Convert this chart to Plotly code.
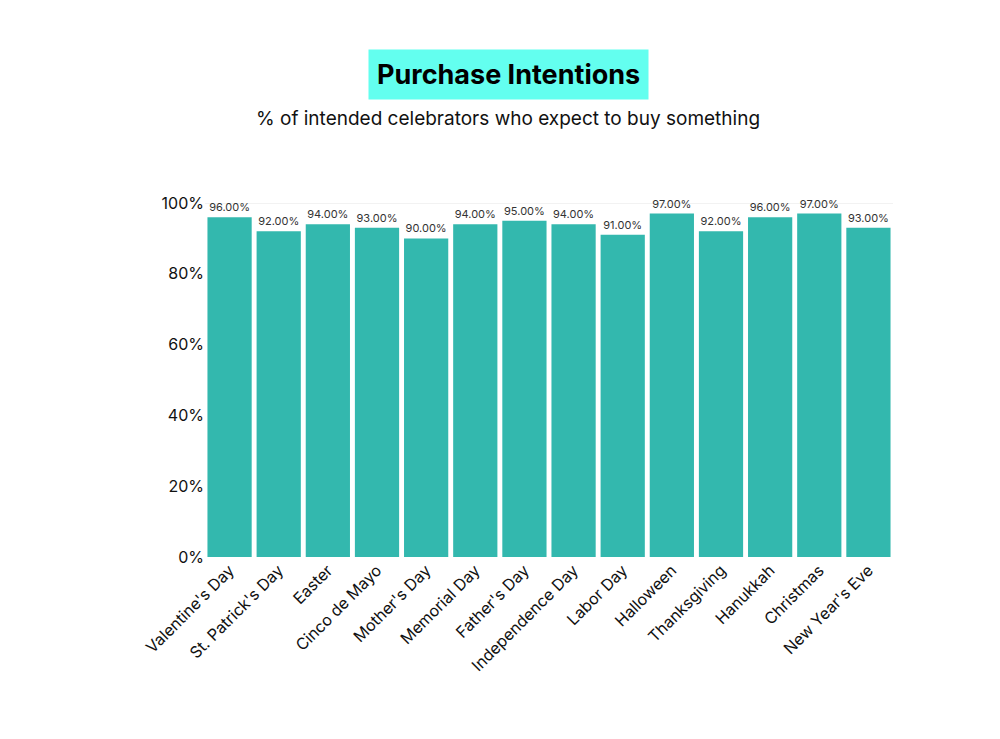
import plotly.graph_objects as go

holidays = ["Valentine's Day", "St. Patrick's Day", "Easter", "Cinco de Mayo", "Mother's Day",
            "Memorial Day", "Father's Day", "Independence Day", "Labor Day", "Halloween",
            "Thanksgiving", "Hanukkah", "Christmas", "New Year's Eve"]
values = [96, 92, 94, 93, 90, 94, 95, 94, 91, 97, 92, 96, 97, 93]
y_ticks = [0, 20, 40, 60, 80, 100]
y_tick_labels = ["0%", "20%", "40%", "60%", "80%", "100%"]

FONT = "Inter"
fig = go.Figure(go.Bar(
    x=holidays, y=values, marker=dict(color="#33B8AE", line=dict(width=0)),
    text=[f"{v:.2f}%" for v in values], textposition="outside",
    textfont=dict(size=11, color="#333333", family=FONT), cliponaxis=False,
))
fig.update_layout(
    width=1000, height=739, paper_bgcolor="white", plot_bgcolor="white",
    margin=dict(l=197, r=115, t=195, b=190), bargap=0.1, showlegend=False,
    font=dict(family=FONT, color="#111111"),
    xaxis=dict(tickangle=-45, tickfont=dict(size=16, color="#111111"), showgrid=False,
               showline=False, ticks=""),
    yaxis=dict(range=[0, 100], tickvals=y_ticks, ticktext=y_tick_labels,
               tickfont=dict(size=16, color="#111111"), showgrid=False, zeroline=False,
               ticks="", ticklen=8, tickcolor="white"),
    shapes=[dict(type="line", xref="paper", yref="y", x0=0, x1=1, y0=100, y1=100,
                 line=dict(color="#e6e6e6", width=1), layer="below")],
    annotations=[
        dict(text="<b>Purchase Intentions</b>", xref="paper", yref="paper", x=0.5, y=1,
             xanchor="center", yanchor="middle", showarrow=False,
             font=dict(size=27, color="black", family=FONT), bgcolor="#63FFEF",
             borderpad=8, xshift=1000*0.5 - (197 + 688*0.5), yshift=195 - 66),
        dict(text="% of intended celebrators who expect to buy something", xref="paper", yref="paper",
             x=0.5, y=1, xanchor="center", yanchor="middle", showarrow=False,
             font=dict(size=19, color="#111111", family=FONT),
             xshift=1000*0.5 - (197 + 688*0.5), yshift=195 - 110),
    ],
)
fig.write_html("out.html")
